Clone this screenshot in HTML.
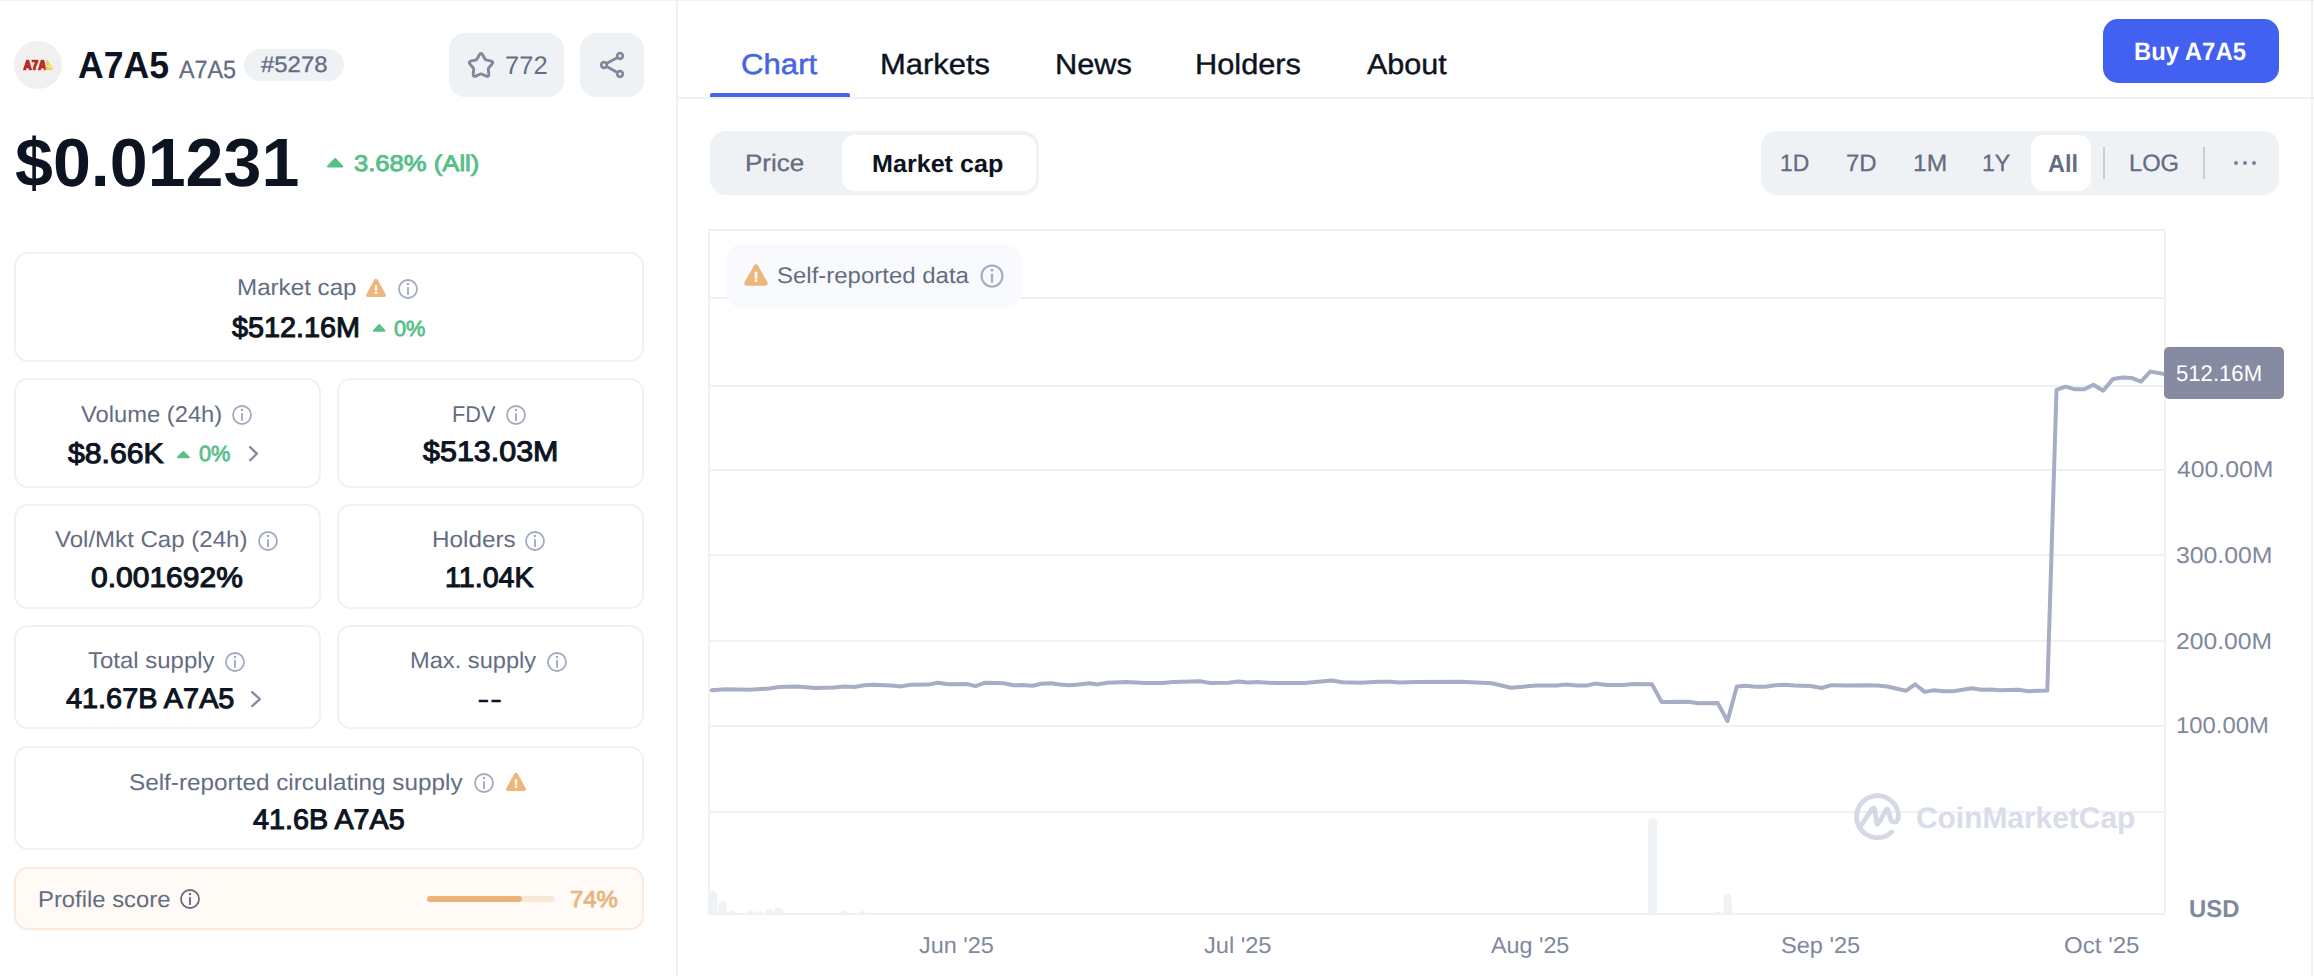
<!DOCTYPE html>
<html lang="en"><head><meta charset="utf-8"><title>A7A5 price today, A7A5 to USD live price, marketcap and chart | CoinMarketCap</title>
<style>
html,body{margin:0;padding:0;background:#fff;}
body{width:2314px;height:976px;position:relative;overflow:hidden;font-family:"Liberation Sans", Arial, sans-serif;}
.t{position:absolute;white-space:nowrap;line-height:1;transform-origin:0 0;text-rendering:geometricPrecision;}
.b{position:absolute;box-sizing:border-box;}
svg{position:absolute;overflow:visible;}
</style></head><body>
<div class="b" style="left:0px;top:0px;width:2314px;height:1px;background:#eff2f5;"></div>
<div class="b" style="left:676px;top:0px;width:2px;height:976px;background:#eff2f5;"></div>
<div class="b" style="left:2311px;top:0px;width:2px;height:976px;background:#eff2f5;"></div>
<div class="b" style="left:678px;top:97px;width:1636px;height:2px;background:#eff2f5;"></div>
<div class="b" style="left:14px;top:41px;width:48px;height:48px;background:#f0f0f1;border-radius:24px;"></div>
<div class="b" style="left:244px;top:49px;width:100px;height:32px;background:#eff2f5;border-radius:16px;"></div>
<div class="b" style="left:449px;top:33px;width:115px;height:64px;background:#eff2f5;border-radius:16px;"></div>
<div class="b" style="left:580px;top:33px;width:64px;height:64px;background:#eff2f5;border-radius:16px;"></div>
<div class="b" style="left:14px;top:252px;width:630px;height:110px;border:2px solid #eff2f5;border-radius:14px;"></div>
<div class="b" style="left:14px;top:378px;width:307px;height:110px;border:2px solid #eff2f5;border-radius:14px;"></div>
<div class="b" style="left:337px;top:378px;width:307px;height:110px;border:2px solid #eff2f5;border-radius:14px;"></div>
<div class="b" style="left:14px;top:504.3px;width:307px;height:104.40000000000003px;border:2px solid #eff2f5;border-radius:14px;"></div>
<div class="b" style="left:337px;top:504.3px;width:307px;height:104.40000000000003px;border:2px solid #eff2f5;border-radius:14px;"></div>
<div class="b" style="left:14px;top:625px;width:307px;height:104.39999999999998px;border:2px solid #eff2f5;border-radius:14px;"></div>
<div class="b" style="left:337px;top:625px;width:307px;height:104.39999999999998px;border:2px solid #eff2f5;border-radius:14px;"></div>
<div class="b" style="left:14px;top:746px;width:630px;height:104.39999999999998px;border:2px solid #eff2f5;border-radius:14px;"></div>
<div class="b" style="left:14px;top:867px;width:630px;height:63.299999999999955px;background:#fffaf6;border:2px solid #fbe9dc;border-radius:14px;"></div>
<div class="b" style="left:427px;top:896px;width:128px;height:6px;background:#f9e8d8;border-radius:3px;"></div>
<div class="b" style="left:427px;top:896px;width:94.70000000000005px;height:6px;background:#eab57a;border-radius:3px;"></div>
<div class="b" style="left:710px;top:93px;width:140px;height:4px;background:#4664e6;border-radius:2px 2px 0 0;"></div>
<div class="b" style="left:2103px;top:19px;width:176px;height:63.8px;background:#4261f0;border-radius:15px;"></div>
<div class="b" style="left:710px;top:131px;width:328.5px;height:63.5px;background:#eff2f5;border-radius:16px;"></div>
<div class="b" style="left:842.2px;top:135px;width:193.79999999999995px;height:56px;background:#ffffff;border-radius:12.5px;"></div>
<div class="b" style="left:1761px;top:131px;width:518px;height:64px;background:#eff2f5;border-radius:16px;"></div>
<div class="b" style="left:2031px;top:135px;width:60px;height:56px;background:#ffffff;border-radius:12.5px;"></div>
<div class="b" style="left:2103px;top:147px;width:2px;height:31.599999999999994px;background:#cacdd9;"></div>
<div class="b" style="left:2203px;top:147px;width:2px;height:31.599999999999994px;background:#cacdd9;"></div>
<div class="b" style="left:2234.3500000000004px;top:160.95px;width:3.899999999999636px;height:3.9000000000000057px;background:#7b8196;border-radius:2px;"></div>
<div class="b" style="left:2243.05px;top:160.95px;width:3.899999999999636px;height:3.9000000000000057px;background:#7b8196;border-radius:2px;"></div>
<div class="b" style="left:2251.9500000000003px;top:160.95px;width:3.899999999999636px;height:3.9000000000000057px;background:#7b8196;border-radius:2px;"></div>
<div class="b" style="left:708px;top:229.2px;width:1458px;height:685.8px;border:2px solid #f0f1f3;"></div>
<div class="b" style="left:710px;top:296.7px;width:1454px;height:2.0px;background:#f0f1f3;"></div>
<div class="b" style="left:710px;top:384.8px;width:1454px;height:2.0px;background:#f0f1f3;"></div>
<div class="b" style="left:710px;top:468.9px;width:1454px;height:2.0px;background:#f0f1f3;"></div>
<div class="b" style="left:710px;top:554.4px;width:1454px;height:2.0px;background:#f0f1f3;"></div>
<div class="b" style="left:710px;top:640.4px;width:1454px;height:2.0px;background:#f0f1f3;"></div>
<div class="b" style="left:710px;top:725.0px;width:1454px;height:2.0px;background:#f0f1f3;"></div>
<div class="b" style="left:710px;top:810.9px;width:1454px;height:2.0px;background:#f0f1f3;"></div>
<div class="b" style="left:726px;top:243.5px;width:296px;height:64.5px;background:#f8fafd;border-radius:16px;"></div>
<div class="b" style="left:2164px;top:347px;width:120.19999999999982px;height:52px;background:#868ba1;border-radius:5px;"></div>
<div class="t" style="left:77.77px;top:48.12px;font-size:37.89px;color:#0d1421;transform:scale(0.9397,1.0000);font-weight:bold;">A7A5</div>
<div class="t" style="left:178.57px;top:57.79px;font-size:24.99px;color:#646d82;transform:scale(0.9343,1.0000);-webkit-text-stroke:0.3px #646d82;">A7A5</div>
<div class="t" style="left:260.58px;top:53.69px;font-size:22.45px;color:#646d82;transform:scale(1.0664,1.0000);-webkit-text-stroke:0.3px #646d82;">#5278</div>
<div class="t" style="left:504.66px;top:54.11px;font-size:25.38px;color:#646d82;transform:scale(1.0054,1.0000);">772</div>
<div class="t" style="left:15.21px;top:128.56px;font-size:68.2px;color:#0d1421;transform:scale(0.9997,1.0000);font-weight:bold;">$0.01231</div>
<div class="t" style="left:353.70px;top:152.54px;font-size:22.63px;color:#58bf88;transform:scale(1.1324,1.0000);-webkit-text-stroke:0.9px #58bf88;">3.68% (All)</div>
<div class="t" style="left:236.71px;top:276.11px;font-size:22.78px;color:#646d82;transform:scale(1.0616,1.0000);">Market cap</div>
<div class="t" style="left:232.38px;top:313.18px;font-size:28.27px;color:#0d1421;transform:scale(1.0186,1.0000);-webkit-text-stroke:1.05px #0d1421;">$512.16M</div>
<div class="t" style="left:394.11px;top:317.52px;font-size:21.95px;color:#58bf88;transform:scale(0.9933,1.0000);-webkit-text-stroke:0.8px #58bf88;">0%</div>
<div class="t" style="left:80.99px;top:402.91px;font-size:22.78px;color:#646d82;transform:scale(1.0430,1.0000);">Volume (24h)</div>
<div class="t" style="left:68.39px;top:439.47px;font-size:28.27px;color:#0d1421;transform:scale(1.0678,1.0000);-webkit-text-stroke:1.05px #0d1421;">$8.66K</div>
<div class="t" style="left:199.11px;top:442.82px;font-size:21.95px;color:#58bf88;transform:scale(0.9933,1.0000);-webkit-text-stroke:0.8px #58bf88;">0%</div>
<div class="t" style="left:451.57px;top:402.91px;font-size:22.78px;color:#646d82;transform:scale(0.9558,1.0000);">FDV</div>
<div class="t" style="left:423.16px;top:437.18px;font-size:28.27px;color:#0d1421;transform:scale(1.0776,1.0000);-webkit-text-stroke:1.05px #0d1421;">$513.03M</div>
<div class="t" style="left:55.14px;top:528.11px;font-size:22.78px;color:#646d82;transform:scale(1.0559,1.0000);">Vol/Mkt Cap (24h)</div>
<div class="t" style="left:90.80px;top:562.78px;font-size:28.27px;color:#0d1421;transform:scale(1.0617,1.0000);-webkit-text-stroke:1.05px #0d1421;">0.001692%</div>
<div class="t" style="left:431.60px;top:528.11px;font-size:22.78px;color:#646d82;transform:scale(1.0661,1.0000);">Holders</div>
<div class="t" style="left:445.34px;top:562.78px;font-size:28.27px;color:#0d1421;transform:scale(1.0118,1.0000);-webkit-text-stroke:1.05px #0d1421;">11.04K</div>
<div class="t" style="left:88.13px;top:649.11px;font-size:22.78px;color:#646d82;transform:scale(1.0531,1.0000);">Total supply</div>
<div class="t" style="left:65.64px;top:683.78px;font-size:28.27px;color:#0d1421;transform:scale(1.0205,1.0000);-webkit-text-stroke:1.05px #0d1421;">41.67B A7A5</div>
<div class="t" style="left:476.93px;top:681.62px;font-size:34px;color:#0d1421;transform:scale(1.1185,1.0000);">--</div>
<div class="t" style="left:410.05px;top:649.11px;font-size:22.78px;color:#646d82;transform:scale(1.0386,1.0000);">Max. supply</div>
<div class="t" style="left:129.46px;top:770.91px;font-size:22.78px;color:#646d82;transform:scale(1.0674,1.0000);">Self-reported circulating supply</div>
<div class="t" style="left:253.24px;top:804.78px;font-size:28.27px;color:#0d1421;transform:scale(1.0161,1.0000);-webkit-text-stroke:1.05px #0d1421;">41.6B A7A5</div>
<div class="t" style="left:37.93px;top:887.51px;font-size:22.78px;color:#646d82;transform:scale(1.0472,1.0000);">Profile score</div>
<div class="t" style="left:569.85px;top:887.84px;font-size:23.11px;color:#e8b57f;transform:scale(1.0357,1.0000);-webkit-text-stroke:0.9px #e8b57f;">74%</div>
<div class="t" style="left:740.73px;top:50.71px;font-size:28.63px;color:#4664e6;transform:scale(1.0883,1.0000);-webkit-text-stroke:0.5px #4664e6;">Chart</div>
<div class="t" style="left:880.28px;top:51.22px;font-size:29.03px;color:#0d1421;transform:scale(1.0666,1.0000);-webkit-text-stroke:0.4px #0d1421;">Markets</div>
<div class="t" style="left:1055.24px;top:50.66px;font-size:28.69px;color:#0d1421;transform:scale(1.0731,1.0000);-webkit-text-stroke:0.4px #0d1421;">News</div>
<div class="t" style="left:1195.25px;top:50.65px;font-size:28.7px;color:#0d1421;transform:scale(1.0718,1.0000);-webkit-text-stroke:0.4px #0d1421;">Holders</div>
<div class="t" style="left:1367.35px;top:50.63px;font-size:28.72px;color:#0d1421;transform:scale(1.0634,1.0000);-webkit-text-stroke:0.4px #0d1421;">About</div>
<div class="t" style="left:2133.91px;top:40.06px;font-size:25.21px;color:#ffffff;transform:scale(0.9477,1.0000);font-weight:bold;">Buy A7A5</div>
<div class="t" style="left:744.77px;top:151.57px;font-size:23.78px;color:#646d82;transform:scale(1.0954,1.0000);-webkit-text-stroke:0.3px #646d82;">Price</div>
<div class="t" style="left:871.88px;top:152.57px;font-size:24.6px;color:#0d1421;transform:scale(1.0213,1.0000);font-weight:bold;">Market cap</div>
<div class="t" style="left:1780.41px;top:151.57px;font-size:23.78px;color:#646d82;transform:scale(0.9607,1.0000);-webkit-text-stroke:0.3px #646d82;">1D</div>
<div class="t" style="left:1846.21px;top:151.57px;font-size:23.78px;color:#646d82;transform:scale(1.0090,1.0000);-webkit-text-stroke:0.3px #646d82;">7D</div>
<div class="t" style="left:1913.01px;top:151.57px;font-size:23.78px;color:#646d82;transform:scale(1.0334,1.0000);-webkit-text-stroke:0.3px #646d82;">1M</div>
<div class="t" style="left:1982.45px;top:151.57px;font-size:23.78px;color:#646d82;transform:scale(0.9726,1.0000);-webkit-text-stroke:0.3px #646d82;">1Y</div>
<div class="t" style="left:2047.69px;top:152.57px;font-size:24.6px;color:#646d82;transform:scale(0.9537,1.0000);font-weight:bold;">All</div>
<div class="t" style="left:2128.88px;top:151.57px;font-size:23.78px;color:#646d82;transform:scale(0.9973,1.0000);-webkit-text-stroke:0.3px #646d82;">LOG</div>
<div class="t" style="left:777.03px;top:265.33px;font-size:22.53px;color:#646d82;transform:scale(1.0646,1.0000);">Self-reported data</div>
<div class="t" style="left:2175.84px;top:361.88px;font-size:22.7px;color:#ffffff;transform:scale(0.9749,1.0000);">512.16M</div>
<div class="t" style="left:2176.68px;top:457.60px;font-size:22.92px;color:#80889c;transform:scale(1.0808,1.0000);">400.00M</div>
<div class="t" style="left:2175.73px;top:543.60px;font-size:22.92px;color:#80889c;transform:scale(1.0826,1.0000);">300.00M</div>
<div class="t" style="left:2176.05px;top:630.00px;font-size:22.92px;color:#80889c;transform:scale(1.0768,1.0000);">200.00M</div>
<div class="t" style="left:2175.74px;top:713.50px;font-size:22.92px;color:#80889c;transform:scale(1.0416,1.0000);">100.00M</div>
<div class="t" style="left:2188.63px;top:898.28px;font-size:24.24px;color:#80889c;transform:scale(0.9845,1.0000);font-weight:bold;">USD</div>
<div class="t" style="left:919.01px;top:933.60px;font-size:22.92px;color:#80889c;transform:scale(1.0231,1.0000);">Jun '25</div>
<div class="t" style="left:1204.45px;top:933.60px;font-size:22.92px;color:#80889c;transform:scale(1.0303,1.0000);">Jul '25</div>
<div class="t" style="left:1490.73px;top:933.60px;font-size:22.92px;color:#80889c;transform:scale(1.0174,1.0000);">Aug '25</div>
<div class="t" style="left:1780.51px;top:933.60px;font-size:22.92px;color:#80889c;transform:scale(1.0291,1.0000);">Sep '25</div>
<div class="t" style="left:2063.97px;top:933.60px;font-size:22.92px;color:#80889c;transform:scale(1.0507,1.0000);">Oct '25</div>
<div class="t" style="left:1915.74px;top:803.70px;font-size:29.88px;color:#d9dde9;transform:scale(1.0008,1.0000);font-weight:bold;">CoinMarketCap</div>
<svg style="left:0px;top:0px" width="1" height="1" viewBox="0 0 1 1"><path d="M479.11 55.26 Q481.00 51.84 482.89 55.26 L484.80 58.70 Q485.43 59.84 486.69 60.10 L490.50 60.87 Q494.30 61.64 491.68 64.53 L489.04 67.43 Q488.16 68.39 488.31 69.69 L488.77 73.60 Q489.22 77.51 485.70 75.86 L482.17 74.21 Q481.00 73.67 479.83 74.21 L476.30 75.86 Q472.78 77.51 473.23 73.60 L473.69 69.69 Q473.84 68.39 472.96 67.43 L470.32 64.53 Q467.70 61.64 471.50 60.87 L475.31 60.10 Q476.57 59.84 477.20 58.70 Z" fill="none" stroke="#80889c" stroke-width="2.9" stroke-linejoin="round"/></svg>
<svg style="left:0px;top:0px" width="1" height="1" viewBox="0 0 1 1"><g fill="none" stroke="#80889c" stroke-width="2.7"><path d="M606.6 63.5 L617.4 57.5 M606.6 66.5 L617.4 72.5" stroke-linecap="butt"/><circle cx="620" cy="56" r="2.8"/><circle cx="604" cy="65" r="2.8"/><circle cx="620" cy="74" r="2.8"/></g></svg>
<svg style="left:326.7px;top:158.4px" width="16.400000000000034" height="9.5" viewBox="0 0 16.400000000000034 9.5"><path d="M8.200000000000017 1 L15.400000000000034 8.5 L1 8.5 Z" fill="#58bf88" stroke="#58bf88" stroke-width="2" stroke-linejoin="round"/></svg>
<svg style="left:372.6px;top:324.3px" width="12.399999999999977" height="7.699999999999989" viewBox="0 0 12.399999999999977 7.699999999999989"><path d="M6.199999999999989 1 L11.399999999999977 6.699999999999989 L1 6.699999999999989 Z" fill="#58bf88" stroke="#58bf88" stroke-width="2" stroke-linejoin="round"/></svg>
<svg style="left:177.4px;top:450.6px" width="12.799999999999983" height="7.2999999999999545" viewBox="0 0 12.799999999999983 7.2999999999999545"><path d="M6.3999999999999915 1 L11.799999999999983 6.2999999999999545 L1 6.2999999999999545 Z" fill="#58bf88" stroke="#58bf88" stroke-width="2" stroke-linejoin="round"/></svg>
<svg style="left:249.2px;top:446.4px" width="9.0" height="15.400000000000034" viewBox="0 0 9.0 15.400000000000034"><path d="M1.1 1.1 L7.9 7.700000000000017 L1.1 14.300000000000034" fill="none" stroke="#868a9e" stroke-width="2.3" stroke-linecap="round" stroke-linejoin="round"/></svg>
<svg style="left:250.7px;top:690.7px" width="10.0" height="16.199999999999932" viewBox="0 0 10.0 16.199999999999932"><path d="M1.1 1.1 L8.9 8.099999999999966 L1.1 15.099999999999932" fill="none" stroke="#868a9e" stroke-width="2.3" stroke-linecap="round" stroke-linejoin="round"/></svg>
<svg style="left:408.0px;top:288.9px" width="1" height="1" viewBox="0 0 1 1"><circle cx="0" cy="0" r="9.00" fill="none" stroke="#a4abc0" stroke-width="1.8"/><circle cx="0" cy="-4.90" r="1.25" fill="#a4abc0"/><rect x="-0.95" y="-1.90" width="1.90" height="7.80" rx="0.50" fill="#a4abc0"/></svg>
<svg style="left:242.1px;top:415.2px" width="1" height="1" viewBox="0 0 1 1"><circle cx="0" cy="0" r="9.00" fill="none" stroke="#a4abc0" stroke-width="1.8"/><circle cx="0" cy="-4.90" r="1.25" fill="#a4abc0"/><rect x="-0.95" y="-1.90" width="1.90" height="7.80" rx="0.50" fill="#a4abc0"/></svg>
<svg style="left:515.7px;top:415.2px" width="1" height="1" viewBox="0 0 1 1"><circle cx="0" cy="0" r="9.00" fill="none" stroke="#a4abc0" stroke-width="1.8"/><circle cx="0" cy="-4.90" r="1.25" fill="#a4abc0"/><rect x="-0.95" y="-1.90" width="1.90" height="7.80" rx="0.50" fill="#a4abc0"/></svg>
<svg style="left:267.8px;top:541px" width="1" height="1" viewBox="0 0 1 1"><circle cx="0" cy="0" r="9.00" fill="none" stroke="#a4abc0" stroke-width="1.8"/><circle cx="0" cy="-4.90" r="1.25" fill="#a4abc0"/><rect x="-0.95" y="-1.90" width="1.90" height="7.80" rx="0.50" fill="#a4abc0"/></svg>
<svg style="left:534.8px;top:541px" width="1" height="1" viewBox="0 0 1 1"><circle cx="0" cy="0" r="9.00" fill="none" stroke="#a4abc0" stroke-width="1.8"/><circle cx="0" cy="-4.90" r="1.25" fill="#a4abc0"/><rect x="-0.95" y="-1.90" width="1.90" height="7.80" rx="0.50" fill="#a4abc0"/></svg>
<svg style="left:234.6px;top:662.3px" width="1" height="1" viewBox="0 0 1 1"><circle cx="0" cy="0" r="9.00" fill="none" stroke="#a4abc0" stroke-width="1.8"/><circle cx="0" cy="-4.90" r="1.25" fill="#a4abc0"/><rect x="-0.95" y="-1.90" width="1.90" height="7.80" rx="0.50" fill="#a4abc0"/></svg>
<svg style="left:556.9px;top:662.3px" width="1" height="1" viewBox="0 0 1 1"><circle cx="0" cy="0" r="9.00" fill="none" stroke="#a4abc0" stroke-width="1.8"/><circle cx="0" cy="-4.90" r="1.25" fill="#a4abc0"/><rect x="-0.95" y="-1.90" width="1.90" height="7.80" rx="0.50" fill="#a4abc0"/></svg>
<svg style="left:483.7px;top:782.6px" width="1" height="1" viewBox="0 0 1 1"><circle cx="0" cy="0" r="9.00" fill="none" stroke="#a4abc0" stroke-width="1.8"/><circle cx="0" cy="-4.90" r="1.25" fill="#a4abc0"/><rect x="-0.95" y="-1.90" width="1.90" height="7.80" rx="0.50" fill="#a4abc0"/></svg>
<svg style="left:189.8px;top:899px" width="1" height="1" viewBox="0 0 1 1"><circle cx="0" cy="0" r="9.00" fill="none" stroke="#646d82" stroke-width="1.8"/><circle cx="0" cy="-4.90" r="1.25" fill="#646d82"/><rect x="-0.95" y="-1.90" width="1.90" height="7.80" rx="0.50" fill="#646d82"/></svg>
<svg style="left:992.1px;top:276.1px" width="1" height="1" viewBox="0 0 1 1"><circle cx="0" cy="0" r="10.45" fill="none" stroke="#a4abc0" stroke-width="2.1"/><circle cx="0" cy="-5.69" r="1.45" fill="#a4abc0"/><rect x="-1.10" y="-2.21" width="2.21" height="9.06" rx="0.58" fill="#a4abc0"/></svg>
<svg style="left:376.0px;top:287.9px" width="1" height="1" viewBox="0 0 1 1"><path d="M0 -7.20 L8.05 7.20 L-8.05 7.20 Z" fill="#eeb57e" stroke="#eeb57e" stroke-width="3.80" stroke-linejoin="round"/><rect x="-1.20" y="-2.80" width="2.40" height="5.80" rx="0.50" fill="#fffbe6"/><rect x="-1.20" y="3.70" width="2.40" height="2.20" rx="0.60" fill="#fffbe6"/></svg>
<svg style="left:515.7px;top:782.2px" width="1" height="1" viewBox="0 0 1 1"><path d="M0 -7.20 L8.05 7.20 L-8.05 7.20 Z" fill="#eeb57e" stroke="#eeb57e" stroke-width="3.80" stroke-linejoin="round"/><rect x="-1.20" y="-2.80" width="2.40" height="5.80" rx="0.50" fill="#fffbe6"/><rect x="-1.20" y="3.70" width="2.40" height="2.20" rx="0.60" fill="#fffbe6"/></svg>
<svg style="left:756px;top:274.6px" width="1" height="1" viewBox="0 0 1 1"><path d="M0 -8.43 L9.53 8.43 L-9.53 8.43 Z" fill="#eeb57e" stroke="#eeb57e" stroke-width="4.45" stroke-linejoin="round"/><rect x="-1.40" y="-3.28" width="2.81" height="6.79" rx="0.59" fill="#fffbe6"/><rect x="-1.40" y="4.33" width="2.81" height="2.57" rx="0.70" fill="#fffbe6"/></svg>
<svg style="left:0px;top:0px" width="70" height="100" viewBox="0 0 70 100"><defs><linearGradient id="lg" gradientUnits="userSpaceOnUse" x1="22.8" y1="0" x2="53.7" y2="0"><stop offset="0" stop-color="#b5261d"/><stop offset="0.70" stop-color="#bc2b1f"/><stop offset="0.76" stop-color="#e8a23a"/><stop offset="0.82" stop-color="#ebdc4e"/><stop offset="1" stop-color="#e9df55"/></linearGradient><clipPath id="lc"><path d="M22.6 70.2 L26.4 59.7 L47.6 59.7 L53.9 70.2 Z"/></clipPath></defs><g clip-path="url(#lc)"><text x="23.2" y="69.9" font-family="Liberation Sans, Arial, sans-serif" font-weight="bold" font-size="13.8" textLength="30" lengthAdjust="spacingAndGlyphs" fill="url(#lg)" stroke="url(#lg)" stroke-width="1.3" stroke-linejoin="round">A7A5</text></g></svg>
<svg style="left:0px;top:0px" width="1" height="1" viewBox="0 0 1 1"><path d="M711.9 690.3 L725.9 689.2 L749.7 689.8 L769.1 688.5 L778.9 687 L797.2 686.4 L815.6 687.9 L834 687.4 L844.8 686.6 L854.5 687 L864.2 685.3 L872.9 684.8 L891.2 685.5 L901 686.4 L910.7 684.8 L928 684.6 L937.7 682.7 L948.5 684.2 L966.9 684 L975.5 686.1 L985.2 682.7 L1003.6 683.3 L1013.3 685.3 L1022 685.1 L1032.8 685.7 L1041.4 683.8 L1051.1 683.3 L1059.8 684.6 L1069.5 685.3 L1079.2 684.4 L1089 683.3 L1097.6 684.4 L1107.3 682.7 L1126.8 682 L1145.1 682.9 L1162.4 682.9 L1173.2 682 L1200 681.2 L1210.8 683.1 L1228.1 682.7 L1238.5 681.6 L1247.5 682.5 L1257.3 682 L1275.6 683.1 L1304.8 682.9 L1331.8 680.5 L1342.6 682.3 L1361 682.7 L1379.3 681.8 L1390.1 681.8 L1398.8 682.5 L1416.1 682 L1461.4 681.8 L1491.7 683.3 L1511.1 687.7 L1537.1 685.5 L1556.5 685.5 L1566.2 684.4 L1577 685.5 L1586.8 685.5 L1595.4 683.6 L1606.2 685.1 L1623.5 685.1 L1633.2 684 L1652 684.2 L1661.7 702.1 L1688.3 701.7 L1698.4 703.3 L1717.8 703.1 L1727.5 721 L1736.8 686.5 L1745.9 685.8 L1755.6 686.7 L1765.3 686.7 L1775.1 685.2 L1784.8 684.7 L1794.5 685.6 L1810.7 686 L1821.5 688 L1831.3 685.2 L1848.5 685.6 L1868 685.2 L1877.7 685.4 L1887.4 686.5 L1905.8 690.8 L1915.1 684.3 L1924.6 691.9 L1933.9 690.3 L1943.6 691.2 L1953.3 691.2 L1971.7 688.2 L1981.4 689.7 L1991.1 689.5 L1999.8 690.3 L2019.2 689.7 L2027.9 691.2 L2047.3 690.6 L2056.5 389.8 L2065.5 386.7 L2074.1 389.2 L2084.3 389.2 L2093.4 384.7 L2103.2 390.7 L2113 378.9 L2122.5 377.5 L2131.5 377.9 L2140.9 381.6 L2150.3 371.6 L2164.3 374" fill="none" stroke="#a7aec4" stroke-width="4" stroke-linejoin="round" stroke-linecap="butt"/></svg>
<svg style="left:0px;top:0px" width="1" height="1" viewBox="0 0 1 1"><circle cx="711.9" cy="690.3" r="2" fill="#a7aec4"/></svg>
<svg style="left:0px;top:0px" width="1" height="1" viewBox="0 0 1 1"><path d="M708.2 914 V895.6 a4.5499999999999545 4.5499999999999545 0 0 1 9.099999999999909 0 V914 Z" fill="#f0f3f6"/><path d="M718.2 914 V905.3 a4.2999999999999545 4.2999999999999545 0 0 1 8.599999999999909 0 V914 Z" fill="#f0f3f6"/><path d="M728 914 V914.7 a3.6999999999999886 3.6999999999999886 0 0 1 7.399999999999977 0 V914 Z" fill="#f0f3f6"/><path d="M746.7 914 V914.6 a3.6499999999999773 3.6499999999999773 0 0 1 7.2999999999999545 0 V914 Z" fill="#f0f3f6"/><path d="M755.7 914 V914.6 a3.6499999999999773 3.6499999999999773 0 0 1 7.2999999999999545 0 V914 Z" fill="#f0f3f6"/><path d="M765.3 914 V913.4 a4.100000000000023 4.100000000000023 0 0 1 8.200000000000045 0 V914 Z" fill="#f0f3f6"/><path d="M774.3 914 V911.7 a4.550000000000011 4.550000000000011 0 0 1 9.100000000000023 0 V914 Z" fill="#f0f3f6"/><path d="M840 914 V914.9 a3.8999999999999773 3.8999999999999773 0 0 1 7.7999999999999545 0 V914 Z" fill="#f0f3f6"/><path d="M859 914 V914.9 a3.8999999999999773 3.8999999999999773 0 0 1 7.7999999999999545 0 V914 Z" fill="#f0f3f6"/><path d="M1648.2 914 V822.1 a4.399999999999977 4.399999999999977 0 0 1 8.799999999999955 0 V914 Z" fill="#f0f3f6"/><path d="M1723.3 914 V897.9 a4.25 4.25 0 0 1 8.5 0 V914 Z" fill="#f0f3f6"/><path d="M1713.5 914 V915.5 a4.0 4.0 0 0 1 8.0 0 V914 Z" fill="#f0f3f6"/></svg>
<svg style="left:0px;top:0px" width="1" height="1" viewBox="0 0 1 1"><path fill="none" stroke="#d5d9e6" stroke-width="4.8" stroke-linecap="round" stroke-linejoin="round" d="M1891.82 832.06 A21 21 0 1 1 1898.42 814.87 Q1898.4 822.4 1894.4 822.2 Q1891 822 1890.2 817.6 L1888.6 811 Q1887.7 807.6 1885.7 810.6 L1879 822.6 Q1877.2 825.8 1876.5 822.4 L1874.7 810 Q1874 806.2 1871.8 809.4 L1860.3 826.8"/></svg>
</body></html>
